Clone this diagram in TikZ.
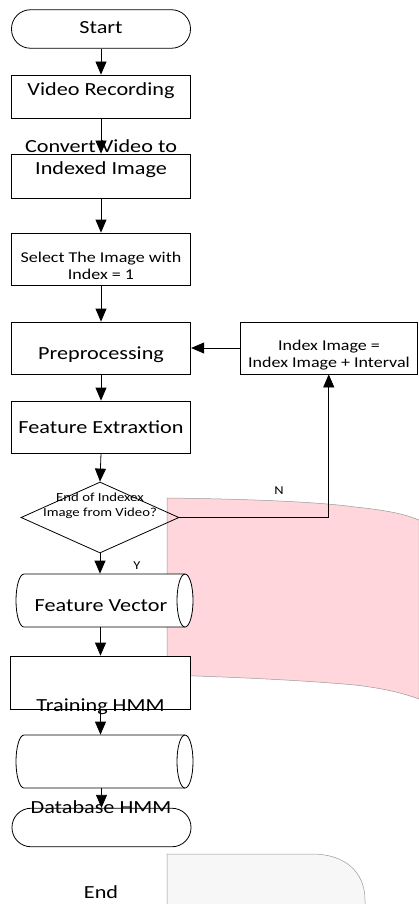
\documentclass[tikz,border=0pt]{standalone}
\usepackage{fontspec}
\setmainfont{Carlito}[FakeStretch=1.2]
\usetikzlibrary{shapes.geometric,arrows.meta}
\begin{document}
\begin{tikzpicture}[x=1pt,y=-1pt,
  line width=0.8pt,
  big/.style={font=\fontsize{18.5}{22}\selectfont,inner sep=0pt,align=center},
  small/.style={font=\fontsize{15}{17}\selectfont,inner sep=0pt,align=center},
  tiny/.style={font=\fontsize{12.3}{14.5}\selectfont,inner sep=0pt,align=center},
  lbl/.style={font=\fontsize{12}{14}\selectfont,inner sep=0pt},
  box/.style={draw,fill=white,minimum width=179.5pt,inner sep=0pt},
  term/.style={draw,fill=white,rounded corners=19pt,minimum width=179pt,minimum height=38.5pt,inner sep=0pt},
  storearea/.style={minimum width=177pt,minimum height=53pt,inner sep=0pt},
  storeline/.style={draw,fill=white},
  dec/.style={draw,diamond,minimum width=158pt,minimum height=71pt,inner sep=0pt},
  arr/.style={-{Triangle[length=13pt,width=11pt]}}
]
\useasboundingbox (0,0) rectangle (418,904);
% background shapes
\path[fill={rgb,255:red,255;green,214;blue,219},draw=black!40,line width=0.5pt]
  (167,498) .. controls (250,499) and (320,502) .. (355,507)
  .. controls (385,510) and (405,514) .. (419,520) -- (419,699)
  .. controls (400,692) and (380,688) .. (355,685)
  .. controls (300,680) and (230,677) .. (167,675) -- cycle;
\path[fill=black!3,draw=black!40,line width=0.5pt]
  (167,906) -- (167,854) -- (312,854) .. controls (345,854) and (365,872) .. (365,900) -- (365,906);
% nodes
\node[term] (start) at (101,29) {};
\node[big] (startt) at (101,28) {Start};
\node[box,minimum height=43pt] (vr) at (101,96.5) {};
\node[big] (vrt) at (101,91) {Video Recording};
\node[box,minimum height=44pt] (cv) at (101,176) {};
\node[big] (cvt) at (101,159) {Convert Video to\\Indexed Image};
\node[box,minimum height=52pt] (sel) at (101,259) {};
\node[small] (selt) at (101,266) {Select The Image with\\Index = 1};
\node[box,minimum height=52pt] (pre) at (101,348) {};
\node[big] (pret) at (101,355) {Preprocessing};
\node[box,minimum height=52pt,minimum width=177.5pt] (idx) at (328.75,348) {};
\node[small] (idxt) at (329,355) {Index Image =\\Index Image + Interval};
\node[box,minimum height=52pt] (fe) at (101,427) {};
\node[big] (fet) at (101,427) {Feature Extraxtion};
\node[dec] (dia) at (100,517.5) {};
\node[tiny] (diat) at (100,506) {End of Indexex\\Image from Video?};
% stored data 1
\node[storearea] (fv) at (104.5,600.5) {};
\draw[storeline] (24,574) -- (185,574) arc[start angle=-90,end angle=90,x radius=8,y radius=26.5]
  -- (24,627) arc[start angle=90,end angle=270,x radius=8,y radius=26.5] -- cycle;
\draw (185,574) arc[start angle=-90,end angle=-270,x radius=8,y radius=26.5];
\node[big] (fvt) at (101,606) {Feature Vector};
\node[box,minimum height=53pt] (tr) at (100.5,682.5) {};
% stored data 2
\node[storearea] (db) at (104.5,761.5) {};
\draw[storeline] (24,735) -- (185,735) arc[start angle=-90,end angle=90,x radius=8,y radius=26.5]
  -- (24,788) arc[start angle=90,end angle=270,x radius=8,y radius=26.5] -- cycle;
\draw (185,735) arc[start angle=-90,end angle=-270,x radius=8,y radius=26.5];
\node[term] (end) at (101.5,827.5) {};
\node[lbl] (n) at (279,491) {N};
\node[lbl] (y) at (137,566) {Y};
% connectors
\draw[arr] (start.south) -- (vr.north);
\draw[arr] (vr.south) -- (cv.north);
\draw[arr] (cv.south) -- (sel.north);
\draw[arr] (sel.south) -- (pre.north);
\draw[arr] (idx.west) -- (pre.east);
\draw[arr] (pre.south) -- (fe.north);
\draw[arr] (fe.south) -- (dia.north);
\draw[arr] (dia.east) -| (idx.south);
\draw[arr] (dia.south) -- (dia.south |- fv.north);
\draw[arr] (tr.north |- fv.south) -- (tr.north);
\draw[arr] (tr.south) -- (tr.south |- db.north);
\draw[arr] (end.north |- db.south) -- (end.north);
% overlapping texts
\node[big] (trt) at (100.5,707) {Training HMM};
\node[big] (dbt) at (101,807) {Database HMM};
\node[big] (endt) at (101,892) {End};
\end{tikzpicture}
\end{document}
